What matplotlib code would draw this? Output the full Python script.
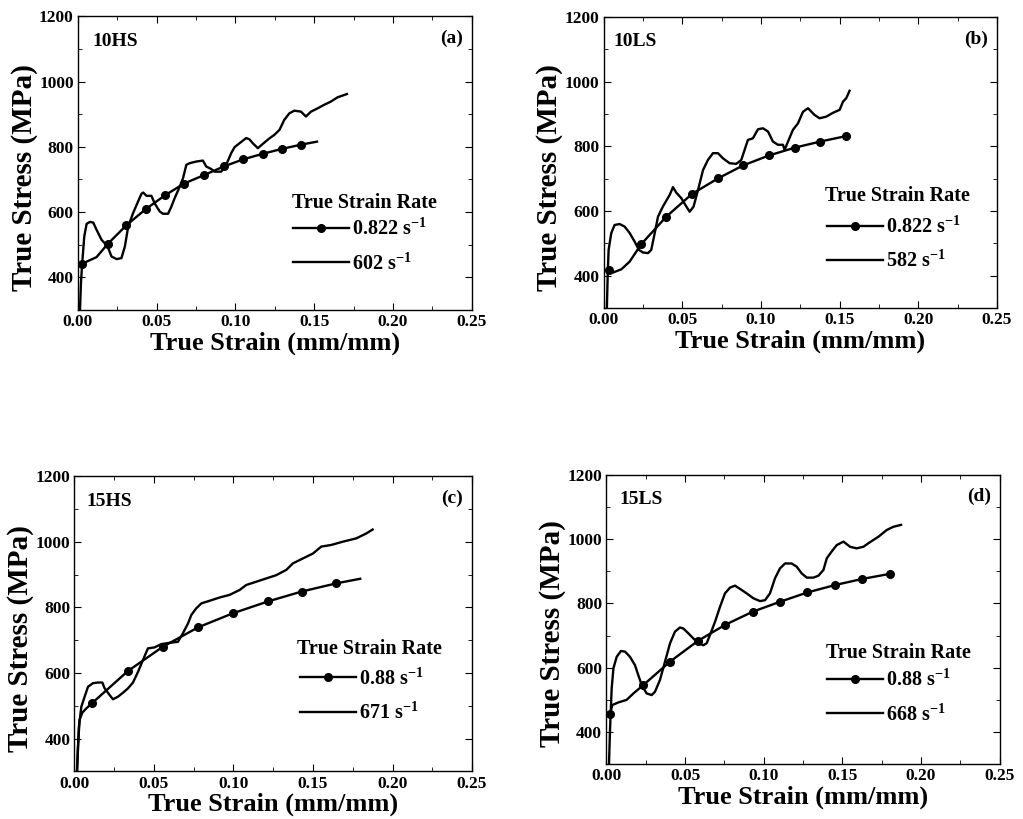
import matplotlib
matplotlib.use('Agg')
import matplotlib.pyplot as plt
from matplotlib.ticker import MultipleLocator, FormatStrFormatter

plt.rcParams.update({
    'font.family': 'Liberation Serif', 'font.weight': 'bold',
    'mathtext.fontset': 'custom', 'mathtext.rm': 'Liberation Serif:bold',
    'mathtext.it': 'Liberation Serif:bold', 'mathtext.bf': 'Liberation Serif:bold',
    'mathtext.default': 'rm',
    'axes.linewidth': 1.0,
    'xtick.direction': 'in', 'ytick.direction': 'in',
    'xtick.top': True, 'ytick.right': True,
    'xtick.major.size': 5, 'ytick.major.size': 5,
    'xtick.minor.size': 3, 'ytick.minor.size': 3,
})

# ---- (a) 10HS ----
qs_strain_a = [0.0027, 0.0118, 0.0188, 0.0308, 0.0430, 0.0551, 0.0671, 0.0798, 0.0926, 0.1050, 0.1175, 0.1296, 0.1418, 0.1517]
qs_stress_a = [442, 462, 502, 560, 609, 651, 687, 713, 740, 762, 779, 794, 807, 816]
qs_marks_a = [0, 2, 3, 4, 5, 6, 7, 8, 9, 10, 11, 12]
dyn_strain_a = [0.0013, 0.0019, 0.0027, 0.0040, 0.0055, 0.0076, 0.0097, 0.0118, 0.0150, 0.0188, 0.0213, 0.0245,
                0.0276, 0.0298, 0.0319, 0.0350, 0.0382, 0.0403, 0.0414, 0.0435, 0.0466, 0.0487, 0.0519, 0.0540,
                0.0572, 0.0593, 0.0614, 0.0646, 0.0667, 0.0688, 0.0709, 0.0751, 0.0793, 0.0814, 0.0846, 0.0867,
                0.0909, 0.0941, 0.0973, 0.0994, 0.1025, 0.1068, 0.1089, 0.1110, 0.1142, 0.1173, 0.1215, 0.1247,
                0.1279, 0.1310, 0.1342, 0.1374, 0.1416, 0.1447, 0.1479, 0.1521, 0.1563, 0.1606, 0.1648, 0.1690, 0.1707]
dyn_stress_a = [300, 382, 444, 525, 564, 570, 568, 546, 515, 495, 464, 456,
                459, 495, 556, 597, 633, 656, 660, 650, 650, 627, 602, 595,
                595, 617, 643, 678, 704, 745, 750, 755, 758, 740, 732, 724,
                724, 745, 781, 799, 811, 827, 823, 811, 796, 809, 826, 837,
                852, 883, 903, 911, 908, 893, 908, 918, 929, 939, 952, 959, 962]

# ---- (b) 10LS ----
qs_strain_b = [0.0034, 0.0060, 0.0113, 0.0166, 0.0240, 0.0399, 0.0562, 0.0727, 0.0886, 0.1051, 0.1214, 0.1377, 0.1542]
qs_stress_b = [418, 410, 420, 444, 498, 583, 653, 701, 741, 772, 796, 815, 832]
qs_marks_b = [0, 4, 5, 6, 7, 8, 9, 10, 11, 12]
dyn_strain_b = [0.0021, 0.0026, 0.0032, 0.0049, 0.0070, 0.0102, 0.0134, 0.0166, 0.0197, 0.0225, 0.0250, 0.0282,
                0.0303, 0.0325, 0.0346, 0.0377, 0.0420, 0.0441, 0.0462, 0.0494, 0.0526, 0.0547, 0.0572, 0.0600,
                0.0632, 0.0663, 0.0695, 0.0727, 0.0759, 0.0801, 0.0843, 0.0875, 0.0896, 0.0917, 0.0949, 0.0981,
                0.1013, 0.1045, 0.1076, 0.1108, 0.1140, 0.1150, 0.1172, 0.1203, 0.1235, 0.1267, 0.1299, 0.1341,
                0.1373, 0.1415, 0.1458, 0.1500, 0.1521, 0.1542, 0.1563]
dyn_stress_b = [300, 398, 480, 532, 557, 560, 552, 532, 506, 480, 472, 470,
                480, 532, 583, 614, 650, 674, 657, 640, 614, 598, 614, 665,
                727, 758, 779, 779, 763, 748, 746, 758, 789, 820, 825, 853,
                856, 846, 815, 805, 805, 789, 815, 851, 871, 907, 918, 897,
                887, 892, 904, 913, 938, 949, 972]

# ---- (c) 15HS ----
qs_strain_c = [0.0016, 0.0022, 0.0032, 0.0049, 0.0074, 0.0110, 0.0336, 0.0556, 0.0777, 0.0997, 0.1217, 0.1428, 0.1646, 0.1797]
qs_stress_c = [300, 376, 457, 479, 492, 508, 606, 680, 739, 782, 818, 848, 873, 887]
qs_marks_c = [5, 6, 7, 8, 9, 10, 11, 12]
dyn_strain_c = [0.0016, 0.0028, 0.0043, 0.0064, 0.0085, 0.0116, 0.0148, 0.0175, 0.0190, 0.0221, 0.0242, 0.0274,
                0.0305, 0.0336, 0.0368, 0.0400, 0.0431, 0.0462, 0.0504, 0.0546, 0.0599, 0.0651, 0.0682, 0.0714,
                0.0735, 0.0766, 0.0798, 0.0850, 0.0913, 0.0976, 0.1039, 0.1080, 0.1143, 0.1206, 0.1269, 0.1332,
                0.1374, 0.1437, 0.1500, 0.1552, 0.1615, 0.1688, 0.1772, 0.1835, 0.1875]
dyn_stress_c = [300, 437, 497, 528, 558, 569, 571, 571, 553, 533, 520, 528,
                540, 553, 571, 604, 640, 675, 678, 688, 692, 695, 721, 751,
                777, 797, 812, 820, 830, 838, 853, 868, 878, 888, 898, 914,
                934, 949, 964, 985, 990, 1000, 1010, 1025, 1037]

# ---- (d) 15LS ----
qs_strain_d = [0.0023, 0.0038, 0.0076, 0.0129, 0.0172, 0.0235, 0.0405, 0.0581, 0.0754, 0.0930, 0.1104, 0.1278, 0.1454, 0.1627, 0.1805]
qs_stress_d = [455, 484, 492, 500, 520, 546, 619, 683, 733, 774, 805, 834, 857, 876, 892]
qs_marks_d = [0, 5, 6, 7, 8, 9, 10, 11, 12, 13, 14]
dyn_strain_d = [0.0017, 0.0023, 0.0034, 0.0045, 0.0066, 0.0093, 0.0119, 0.0150, 0.0182, 0.0203, 0.0225, 0.0256,
                0.0288, 0.0309, 0.0341, 0.0373, 0.0405, 0.0436, 0.0468, 0.0489, 0.0521, 0.0553, 0.0585, 0.0617,
                0.0638, 0.0659, 0.0691, 0.0723, 0.0754, 0.0786, 0.0818, 0.0850, 0.0892, 0.0934, 0.0977, 0.1009,
                0.1040, 0.1072, 0.1104, 0.1136, 0.1178, 0.1210, 0.1242, 0.1274, 0.1316, 0.1348, 0.1380, 0.1401,
                0.1432, 0.1464, 0.1507, 0.1549, 0.1591, 0.1634, 0.1666, 0.1697, 0.1729, 0.1782, 0.1824, 0.1873]
dyn_stress_d = [300, 401, 536, 598, 634, 652, 650, 634, 608, 577, 546, 520,
                515, 525, 562, 619, 676, 712, 725, 722, 707, 691, 676, 670,
                676, 702, 743, 790, 831, 849, 855, 845, 831, 816, 807, 810,
                831, 878, 909, 924, 924, 914, 893, 880, 880, 886, 904, 940,
                961, 981, 992, 976, 971, 976, 987, 997, 1007, 1028, 1038, 1044]

names = ['10HS', '10LS', '15HS', '15LS']
tags = ['(a)', '(b)', '(c)', '(d)']
qs_rates = ['0.822 s$^{-1}$', '0.822 s$^{-1}$', '0.88 s$^{-1}$', '0.88 s$^{-1}$']
dyn_rates = ['602 s$^{-1}$', '582 s$^{-1}$', '671 s$^{-1}$', '668 s$^{-1}$']

panels = [
    (qs_strain_a, qs_stress_a, qs_marks_a, dyn_strain_a, dyn_stress_a),
    (qs_strain_b, qs_stress_b, qs_marks_b, dyn_strain_b, dyn_stress_b),
    (qs_strain_c, qs_stress_c, qs_marks_c, dyn_strain_c, dyn_stress_c),
    (qs_strain_d, qs_stress_d, qs_marks_d, dyn_strain_d, dyn_stress_d),
]

boxes = [[0.0762, 0.6215, 0.385, 0.3585],
         [0.590, 0.6238, 0.3846, 0.3554],
         [0.0728, 0.058, 0.3886, 0.3608],
         [0.5927, 0.0669, 0.3845, 0.3535]]
# legend heading (left, centre) and legend rows (left, middle) in axes fractions
head_pos = [(0.543, 0.364), (0.563, 0.385), (0.560, 0.415), (0.558, 0.383)]
rows_pos = [(0.546, 0.216), (0.567, 0.219), (0.567, 0.2555), (0.561, 0.2305)]
name_x = [0.038, 0.025, 0.031, 0.034]

fig = plt.figure(figsize=(10.23, 8.19), dpi=100)

for i, (qx, qy, qm, dx, dy) in enumerate(panels):
    ax = fig.add_axes(boxes[i])
    ax.plot(qx, qy, 'k-', lw=1.7, marker='o', ms=5.5, markevery=qm, label=qs_rates[i])
    ax.plot(dx, dy, 'k-', lw=1.7, label=dyn_rates[i])
    ax.set_xlim(0, 0.25)
    ax.set_ylim(300, 1200)
    ax.xaxis.set_major_locator(MultipleLocator(0.05))
    ax.xaxis.set_minor_locator(MultipleLocator(0.025))
    ax.yaxis.set_major_locator(MultipleLocator(200))
    ax.yaxis.set_minor_locator(MultipleLocator(100))
    ax.xaxis.set_major_formatter(FormatStrFormatter('%.2f'))
    ax.tick_params(labelsize=12.5, pad=3)
    for lab in ax.get_xticklabels() + ax.get_yticklabels():
        lab.set_fontweight('bold')
    ax.set_xlabel('True Strain (mm/mm)', fontsize=19, fontweight='bold', labelpad=1)
    ax.set_ylabel('True Stress (MPa)', fontsize=21, fontweight='bold', labelpad=1, y=0.45)
    ax.text(name_x[i], 0.915, names[i], transform=ax.transAxes, fontsize=14,
            fontweight='bold', va='center', ha='left')
    ax.text(0.978, 0.925, tags[i], transform=ax.transAxes, fontsize=14,
            fontweight='bold', va='center', ha='right')
    ax.text(head_pos[i][0], head_pos[i][1], 'True Strain Rate', transform=ax.transAxes,
            fontsize=14.5, fontweight='bold', va='center', ha='left')
    ax.legend(loc='center left', bbox_to_anchor=rows_pos[i],
              frameon=False, fontsize=14.5, handlelength=2.8, handletextpad=0.15,
              labelspacing=0.66, borderpad=0, borderaxespad=0)

fig.savefig('out.png', dpi=100)
